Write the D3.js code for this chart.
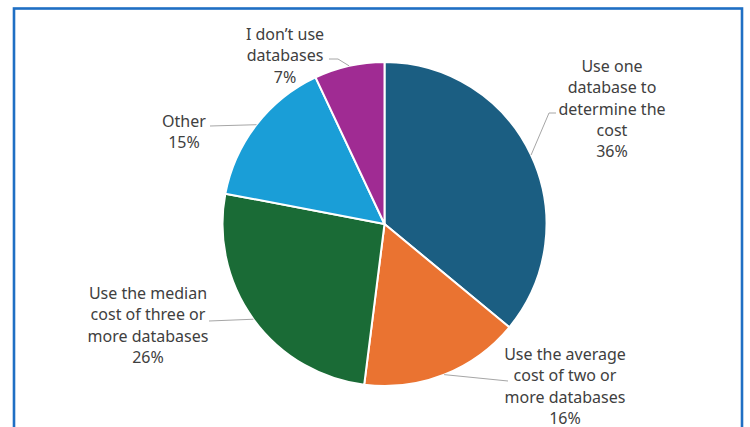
<!DOCTYPE html>
<html>
<head>
<meta charset="utf-8">
<script src="https://cdn.jsdelivr.net/npm/d3@7"></script>
<style>
  body { margin: 0; background: #fff; }
  svg { display: block; }
</style>
</head>
<body>
<div id="chart"></div>
<script>
// data
var categories = ["Use one database to determine the cost",
                  "Use the average cost of two or more databases",
                  "Use the median cost of three or more databases",
                  "Other",
                  "I don\u2019t use databases"];
var values = [36, 16, 26, 15, 7];
// label lines as they wrap in the chart
var labelLines = [["Use one", "database to", "determine the", "cost"],
                  ["Use the average", "cost of two or", "more databases"],
                  ["Use the median", "cost of three or", "more databases"],
                  ["Other"],
                  ["I don\u2019t use", "databases"]];
var colors = ["#1B5E82", "#EA7331", "#1A6B36", "#1A9ED7", "#A02B93"];

// label layout: text centre x, first baseline y, leader path points (after the slice edge point)
var labelLayout = [
  {x: 612, y: 72,  leader: [[549, 113], [556, 113]]},
  {x: 565, y: 360, leader: [[508, 381]]},
  {x: 148, y: 299, leader: [[209, 321]]},
  {x: 184, y: 127, leader: [[210, 126]]},
  {x: 285, y: 40,  leader: [[338, 59], [329, 59]]}
];

var W = 750, H = 427;
var cx = 384.5, cy = 224, r = 162;

var svg = d3.select("#chart")
  .append("svg")
    .attr("width", W)
    .attr("height", H);

// blue frame (bottom runs past the picture)
svg.append("rect")
  .attr("x", 14)
  .attr("y", 8.5)
  .attr("width", 728)
  .attr("height", 440)
  .attr("fill", "none")
  .attr("stroke", "#1F6FC4")
  .attr("stroke-width", 2.6);

var g = svg.append("g")
  .attr("transform", "translate(" + cx + "," + cy + ")");

var pie = d3.pie().sort(null).value(function(d) { return d; });
var arcs = pie(values);

var arc = d3.arc().innerRadius(0).outerRadius(r);
var edge = d3.arc().innerRadius(r).outerRadius(r);

g.selectAll("path.slice")
  .data(arcs)
  .enter().append("path")
    .attr("class", "slice")
    .attr("d", arc)
    .attr("fill", function(d, i) { return colors[i]; })
    .attr("stroke", "#fff")
    .attr("stroke-width", 2)
    .attr("stroke-linejoin", "round");

// leader lines
svg.selectAll("path.leader")
  .data(arcs)
  .enter().append("path")
    .attr("class", "leader")
    .attr("fill", "none")
    .attr("stroke", "#A6A6A6")
    .attr("stroke-width", 1)
    .attr("d", function(d, i) {
      var c = edge.centroid(d);
      var pts = [[cx + c[0], cy + c[1]]].concat(labelLayout[i].leader);
      return d3.line()(pts);
    });

// labels
var fmt = d3.format(".0%");
var total = d3.sum(values);
var lab = svg.selectAll("text.label")
  .data(arcs)
  .enter().append("text")
    .attr("class", "label")
    .attr("text-anchor", "middle")
    .attr("font-family", "'Noto Sans', sans-serif")
    .attr("font-size", "16px")
    .attr("fill", "#404040");

lab.each(function(d, i) {
  var t = d3.select(this);
  var lines = labelLines[i].concat([fmt(d.data / total)]);
  lines.forEach(function(s, j) {
    t.append("tspan")
      .attr("x", labelLayout[i].x)
      .attr("y", labelLayout[i].y + j * 21.3)
      .text(s);
  });
});
</script>
</body>
</html>
